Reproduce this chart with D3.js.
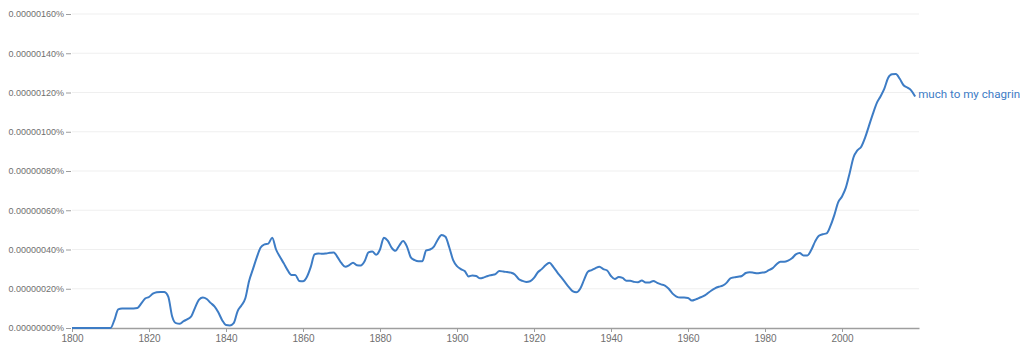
<!DOCTYPE html>
<html>
<head>
<meta charset="utf-8">
<script src="https://cdn.jsdelivr.net/npm/d3@7"></script>
<style>
  body { margin: 0; background: #fff; }
  svg { display: block; font-family: Roboto, "Noto Sans", sans-serif; }
</style>
</head>
<body>
<div id="chart"></div>
<script>
// data in units of 1e-8 percent (20 => 0.00000020%)
const startYear = 1800;
const seriesName = "much to my chagrin";
const values = [
  // 1800-1809
  0, 0, 0, 0, 0, 0, 0, 0, 0, 0,
  // 1810-1819
  0, 4, 9.5, 10, 10, 10, 10, 10.2, 12.5, 15,
  // 1820-1829
  15.8, 17.5, 18.2, 18.4, 18.3, 16, 6, 2.5, 2.2, 3.5,
  // 1830-1839
  4.5, 6, 10.5, 14.5, 15.6, 14.8, 12.8, 11, 8, 4,
  // 1840-1849
  1.5, 1.3, 2.5, 8.5, 11.5, 15, 24, 30, 36, 41,
  // 1850-1859
  42.6, 43, 46, 40, 36.3, 33, 29.5, 27, 27, 24,
  // 1860-1869
  23.8, 26, 31, 37.5, 38, 37.8, 38, 38.3, 38.5, 36,
  // 1870-1879
  33, 31.2, 32, 33.3, 32, 31.8, 34, 38.5, 39, 37.3,
  // 1880-1889
  40, 46, 44.5, 41, 39.3, 42, 44.3, 41.5, 36, 34.6,
  // 1890-1899
  34, 34, 39.5, 40, 41.5, 45, 47.4, 46.5, 41, 34.6,
  // 1900-1909
  31.5, 30, 29, 26.3, 26.8, 26.5, 25.3, 25.8, 26.5, 27,
  // 1910-1919
  27.5, 29, 28.8, 28.5, 28.2, 27.3, 25, 24, 23.5, 23.8,
  // 1920-1929
  25.5, 28.4, 30, 32, 33.3, 31.2, 28.5, 26, 23.5, 21,
  // 1930-1939
  18.8, 18.2, 20, 24.5, 28.7, 29.5, 30.5, 31.2, 30, 29.3,
  // 1940-1949
  26.5, 25, 26, 25.5, 24.1, 24.1, 23.5, 23.3, 24.2, 23.2,
  // 1950-1959
  23.2, 24, 23, 22.2, 21.6, 20, 17.5, 16, 15.5, 15.5,
  // 1960-1969
  15.3, 14, 14.6, 15.4, 16.2, 17.5, 19, 20.2, 21, 21.6,
  // 1970-1979
  23, 25.3, 25.8, 26.1, 26.5, 28, 28.4, 28.2, 27.9, 28.2,
  // 1980-1989
  28.4, 29.5, 30.5, 32.5, 33.8, 33.7, 34.3, 35.5, 37.5, 38.2,
  // 1990-1999
  37, 37, 39.7, 44, 47, 47.8, 48.2, 52, 57.5, 64,
  // 2000-2009
  67, 71.5, 79, 87, 90.5, 92.4, 97, 103, 109, 114.5,
  // 2010-2019
  118, 122, 127.5, 129.3, 129.4, 127, 123.7, 122.5, 121, 118
];
const xTicks = [1800, 1820, 1840, 1860, 1880, 1900, 1920, 1940, 1960, 1980, 2000];
const yTicks = [0, 20, 40, 60, 80, 100, 120, 140, 160];

const data = values.map((v, i) => ({ year: startYear + i, value: v }));

const width = 1024, height = 349;
const lineColor = "#3d7cc5";
const textColor = "#6f6f6f";

const svg = d3.select("#chart").append("svg")
  .attr("width", width)
  .attr("height", height);

const x = d3.scaleLinear().domain([1800, 2020]).range([72, 919]);
const y = d3.scaleLinear().domain([0, 160]).range([328, 14]);

const fmt = t => d3.format(".8f")(t * 1e-8) + "%";

// gridlines
svg.append("g")
  .selectAll("line")
  .data(yTicks.slice(1))
  .enter().append("line")
  .attr("x1", x(1800)).attr("x2", x(2020))
  .attr("y1", d => y(d)).attr("y2", d => y(d))
  .attr("stroke", "#efefef")
  .attr("stroke-width", 1);

// y axis
const yAxis = svg.append("g")
  .attr("transform", "translate(71,0)")
  .call(d3.axisLeft(y).tickValues(yTicks).tickFormat(fmt).tickSize(5).tickPadding(2));
yAxis.select(".domain").remove();
yAxis.selectAll(".tick line").attr("stroke", "#9e9e9e");
yAxis.selectAll(".tick text")
  .attr("fill", textColor)
  .style("font-size", "9px");

// x axis
const xAxis = svg.append("g")
  .attr("transform", `translate(0,${y(0)})`)
  .call(d3.axisBottom(x).tickValues(xTicks).tickFormat(d3.format("d")).tickSize(4).tickPadding(3).tickSizeOuter(0));
xAxis.select(".domain").attr("stroke", "#9e9e9e").attr("stroke-width", 1.5);
xAxis.selectAll(".tick line").attr("stroke", "#9e9e9e");
xAxis.selectAll(".tick text")
  .attr("fill", textColor)
  .style("font-size", "10px");

// line
const line = d3.line()
  .x(d => x(d.year))
  .y(d => y(d.value))
  .curve(d3.curveMonotoneX);

svg.append("path")
  .datum(data)
  .attr("fill", "none")
  .attr("stroke", lineColor)
  .attr("stroke-width", 2)
  .attr("stroke-linejoin", "round")
  .attr("d", line);

// series label
const last = data[data.length - 1];
svg.append("text")
  .attr("x", x(last.year) + 3)
  .attr("y", y(last.value) - 2)
  .attr("dy", "0.35em")
  .attr("fill", lineColor)
  .style("font-size", "11.6px")
  .text(seriesName);
</script>
</body>
</html>
